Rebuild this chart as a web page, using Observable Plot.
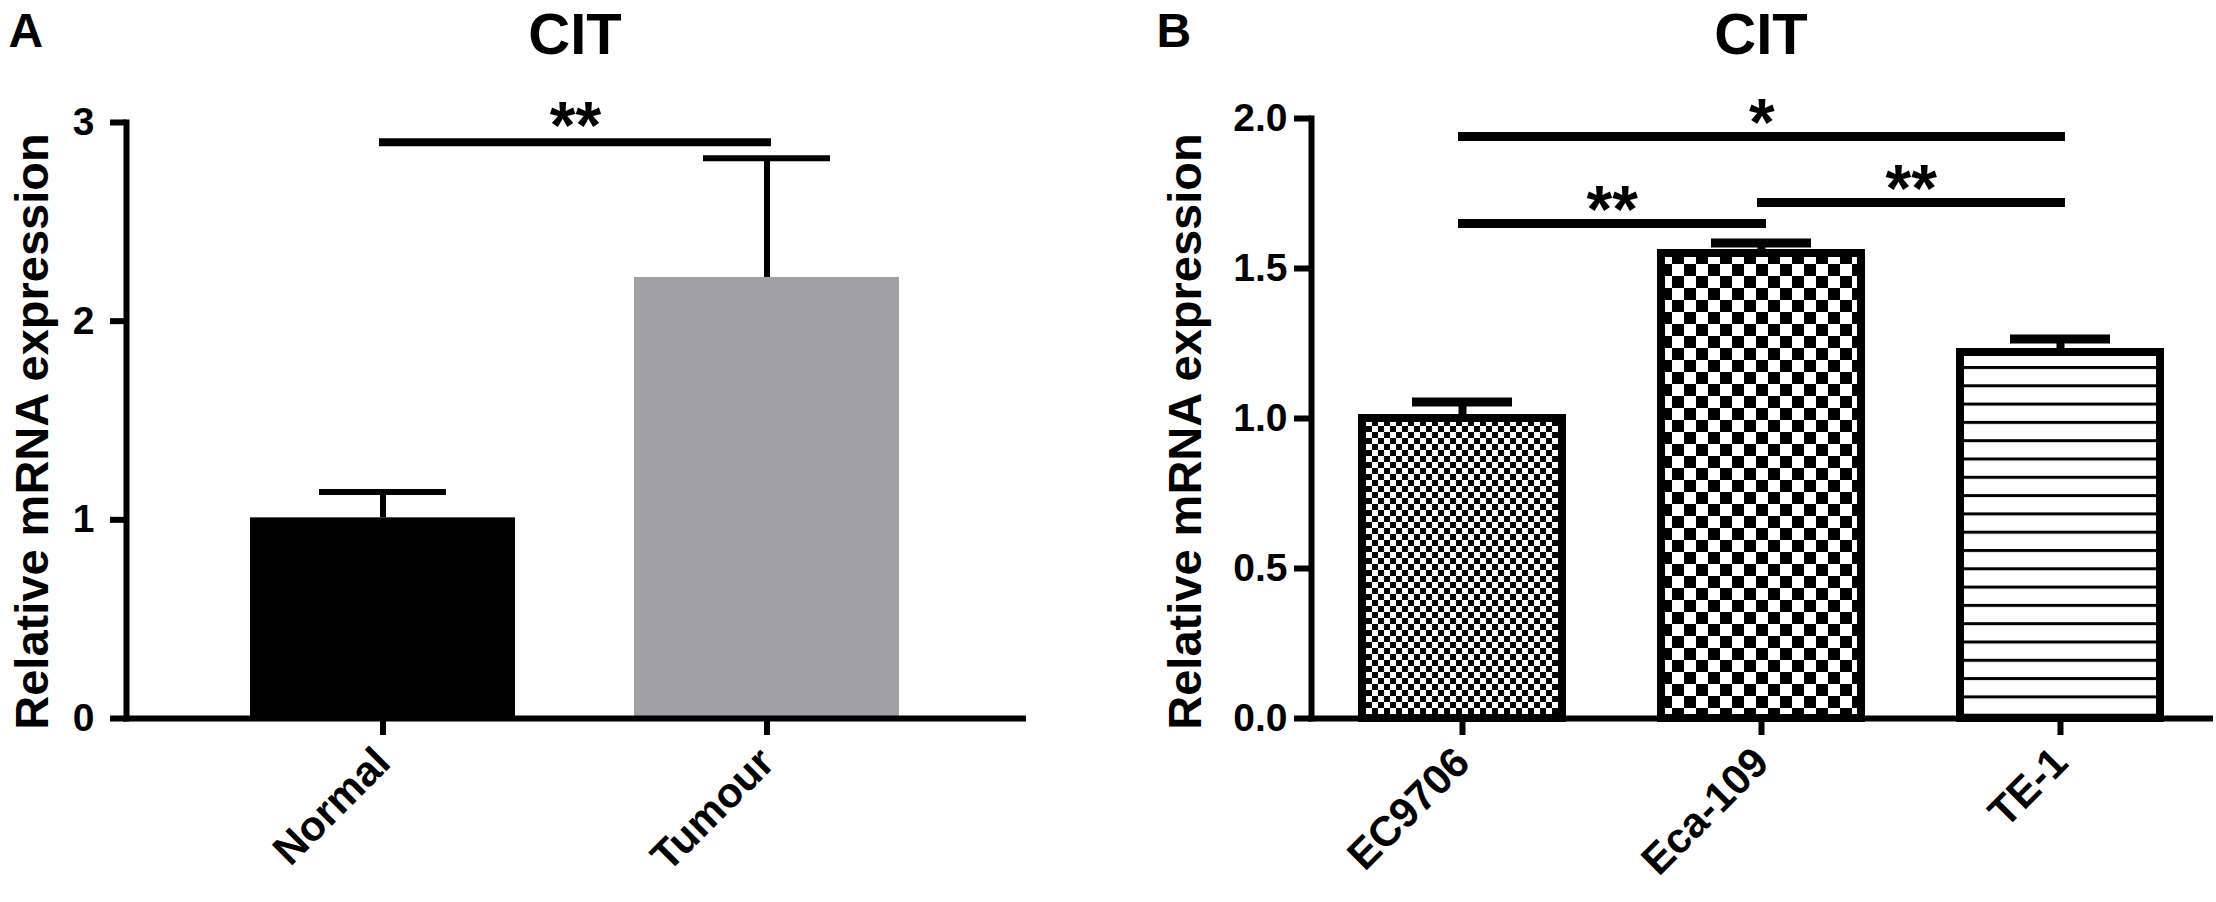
<!DOCTYPE html>
<html><head><meta charset="utf-8">
<script src="https://cdn.jsdelivr.net/npm/d3@7"></script>
<script src="https://cdn.jsdelivr.net/npm/@observablehq/plot@0.6"></script>
<style>
html,body{margin:0;padding:0;background:#fff;}
#wrap{position:relative;width:2216px;height:902px;overflow:hidden;background:#fff;}
#wrap > svg{position:absolute;top:0;overflow:visible;}
</style></head><body><div id="wrap"></div>
<script>
// ---------- data: panel A ----------
const titleA = "CIT";
const groupsA = ["Normal", "Tumour"];
const meanA = [1.01, 2.22];
const errA = [0.13, 0.60];
const fillA = ["#000000", "#a1a0a5"];
const sigFromA = ["Normal"], sigToA = ["Tumour"], sigYA = [2.90], sigLabelA = ["**"];
const yTicksA = [0, 1, 2, 3];

// ---------- data: panel B ----------
const titleB = "CIT";
const groupsB = ["EC9706", "Eca-109", "TE-1"];
const meanB = [1.00, 1.55, 1.22];
const errB = [0.055, 0.035, 0.045];
const patternB = ["fineCheck", "coarseCheck", "hLines"];
const sigFromB = ["EC9706", "EC9706", "Eca-109"], sigToB = ["TE-1", "Eca-109", "TE-1"];
const sigYB = [1.94, 1.65, 1.72], sigLabelB = ["*", "**", "**"];
const yTicksB = [0, 0.5, 1, 1.5, 2];

const yLabel = "Relative mRNA expression";
const FONT = "'Liberation Sans', Arial, Helvetica, sans-serif";
const H = 902;

const rowsA = groupsA.map((g, i) => ({group: g, mean: meanA[i], top: meanA[i] + errA[i], fill: fillA[i]}));
const rowsB = groupsB.map((g, i) => ({group: g, mean: meanB[i], top: meanB[i] + errB[i], fill: `url(#${patternB[i]})`}));
const sigA = sigFromA.map((f, i) => ({from: f, to: sigToA[i], y: sigYA[i], label: sigLabelA[i]}));
const sigB = sigFromB.map((f, i) => ({from: f, to: sigToB[i], y: sigYB[i], label: sigLabelB[i]}));

function stepOf(w, ml, mr, n, pi, po) { return (w - ml - mr) / (n - pi + 2 * po); }

function starMarks(sig, groups, step, size, dy) {
  return sig.map(s => Plot.text([s], {
    x: "from", y: "y", text: "label",
    dx: (groups.indexOf(s.to) - groups.indexOf(s.from)) * step / 2,
    dy, lineAnchor: "bottom", textAnchor: "middle",
    fontSize: size, fontWeight: "bold", fontFamily: FONT
  }));
}

// ---------- Panel A ----------
const wA = 1108, mlA = 126, mrA = 85, mtA = 122, mbA = H - 718;
const piA = 0.309, poA = 0.3195;
const stepA = stepOf(wA, mlA, mrA, groupsA.length, piA, poA);
const plotA = Plot.plot({
  width: wA, height: H,
  marginLeft: mlA, marginRight: mrA, marginTop: mtA, marginBottom: mbA,
  style: {fontFamily: FONT, fontWeight: "bold", background: "transparent", overflow: "visible"},
  x: {domain: groupsA, paddingInner: piA, paddingOuter: poA},
  y: {domain: [0, 3]},
  color: {type: "identity"},
  marks: [
    Plot.barY(rowsA, {x: "group", y: "mean", fill: "fill"}),
    Plot.ruleX(rowsA, {x: "group", y1: "mean", y2: "top", stroke: "#000", strokeWidth: 6}),
    Plot.tickY(rowsA, {x: "group", y: "top", stroke: "#000", strokeWidth: 6, insetLeft: 69, insetRight: 69}),
    Plot.link(sigA, {x1: "from", x2: "to", y1: "y", y2: "y", stroke: "#000", strokeWidth: 8, strokeLinecap: "square"}),
    ...starMarks(sigA, groupsA, stepA, 66, 6),
    Plot.ruleY([0], {stroke: "#000", strokeWidth: 6, strokeLinecap: "square"}),
    Plot.frame({anchor: "left", stroke: "#000", strokeWidth: 6, strokeLinecap: "square"}),
    Plot.axisY({ticks: yTicksA, tickSize: 16, tickPadding: 16, strokeWidth: 6, fontSize: 39, fontWeight: "bold", fontFamily: FONT, label: null, tickFormat: d3.format("d")}),
    Plot.axisX({tickSize: 17, tickRotate: -45, tickPadding: 20, strokeWidth: 6, fontSize: 42, fontWeight: "bold", fontFamily: FONT, label: null}),
    Plot.text([yLabel], {frameAnchor: "left", rotate: -90, dx: -94, dy: 11, textAnchor: "middle", lineAnchor: "middle", fontSize: 47, fontWeight: "bold", fontFamily: FONT}),
    Plot.text([titleA], {frameAnchor: "top", dy: 53 - mtA, textAnchor: "middle", lineAnchor: "bottom", fontSize: 58, fontWeight: "bold", fontFamily: FONT}),
    Plot.text(["A"], {frameAnchor: "top-left", dx: 8 - mlA, dy: 46 - mtA, textAnchor: "start", lineAnchor: "bottom", fontSize: 48, fontWeight: "bold", fontFamily: FONT})
  ]
});

// ---------- Panel B ----------
const leftB = 1108;
const wB = 2216 - leftB, mlB = 1311 - leftB, mrB = 6, mtB = 118, mbB = H - 718;
const piB = 0.332, poB = 0.167;
const stepB = stepOf(wB, mlB, mrB, groupsB.length, piB, poB);
const plotB = Plot.plot({
  width: wB, height: H,
  marginLeft: mlB, marginRight: mrB, marginTop: mtB, marginBottom: mbB,
  style: {fontFamily: FONT, fontWeight: "bold", background: "transparent", overflow: "visible"},
  x: {domain: groupsB, paddingInner: piB, paddingOuter: poB},
  y: {domain: [0, 2]},
  color: {type: "identity"},
  marks: [
    Plot.barY(rowsB, {x: "group", y: "mean", fill: "fill", stroke: "#000", strokeWidth: 8}),
    Plot.ruleX(rowsB, {x: "group", y1: "mean", y2: "top", stroke: "#000", strokeWidth: 8}),
    Plot.tickY(rowsB, {x: "group", y: "top", stroke: "#000", strokeWidth: 9, insetLeft: 50, insetRight: 50}),
    Plot.link(sigB, {x1: "from", x2: "to", y1: "y", y2: "y", stroke: "#000", strokeWidth: 9, strokeLinecap: "square"}),
    ...starMarks(sigB, groupsB, stepB, 66, 8),
    Plot.ruleY([0], {stroke: "#000", strokeWidth: 6, strokeLinecap: "square"}),
    Plot.frame({anchor: "left", stroke: "#000", strokeWidth: 6, strokeLinecap: "square"}),
    Plot.axisY({ticks: yTicksB, tickSize: 17, tickPadding: 7, strokeWidth: 6, fontSize: 39, fontWeight: "bold", fontFamily: FONT, label: null, tickFormat: d3.format(".1f")}),
    Plot.axisX({tickSize: 17, tickRotate: -45, tickPadding: 20, strokeWidth: 6, fontSize: 42, fontWeight: "bold", fontFamily: FONT, label: null}),
    Plot.text([yLabel], {frameAnchor: "left", rotate: -90, dx: -126, dy: 13, textAnchor: "middle", lineAnchor: "middle", fontSize: 47, fontWeight: "bold", fontFamily: FONT}),
    Plot.text([titleB], {frameAnchor: "top", dy: 53 - mtB, textAnchor: "middle", lineAnchor: "bottom", fontSize: 58, fontWeight: "bold", fontFamily: FONT}),
    Plot.text(["B"], {frameAnchor: "top-left", dx: 1156 - 1311, dy: 46 - mtB, textAnchor: "start", lineAnchor: "bottom", fontSize: 48, fontWeight: "bold", fontFamily: FONT})
  ]
});

// fill patterns for panel B
const defs = d3.select(plotB).insert("defs", ":first-child");
const p1 = defs.append("pattern").attr("id", "fineCheck").attr("patternUnits", "userSpaceOnUse").attr("width", 12).attr("height", 12);
p1.append("rect").attr("width", 12).attr("height", 12).attr("fill", "#fff");
p1.append("rect").attr("width", 6).attr("height", 6).attr("fill", "#000");
p1.append("rect").attr("x", 6).attr("y", 6).attr("width", 6).attr("height", 6).attr("fill", "#000");
const p2 = defs.append("pattern").attr("id", "coarseCheck").attr("patternUnits", "userSpaceOnUse").attr("width", 24).attr("height", 24);
p2.append("rect").attr("width", 24).attr("height", 24).attr("fill", "#fff");
p2.append("rect").attr("width", 12).attr("height", 12).attr("fill", "#000");
p2.append("rect").attr("x", 12).attr("y", 12).attr("width", 12).attr("height", 12).attr("fill", "#000");
const p3 = defs.append("pattern").attr("id", "hLines").attr("patternUnits", "userSpaceOnUse").attr("width", 10).attr("height", 18.3);
p3.append("rect").attr("width", 10).attr("height", 18.3).attr("fill", "#fff");
p3.append("rect").attr("width", 10).attr("height", 3).attr("fill", "#000");

const wrap = document.getElementById("wrap");
plotA.style.left = "0px";
plotB.style.left = leftB + "px";
wrap.appendChild(plotA);
wrap.appendChild(plotB);
</script></body></html>
